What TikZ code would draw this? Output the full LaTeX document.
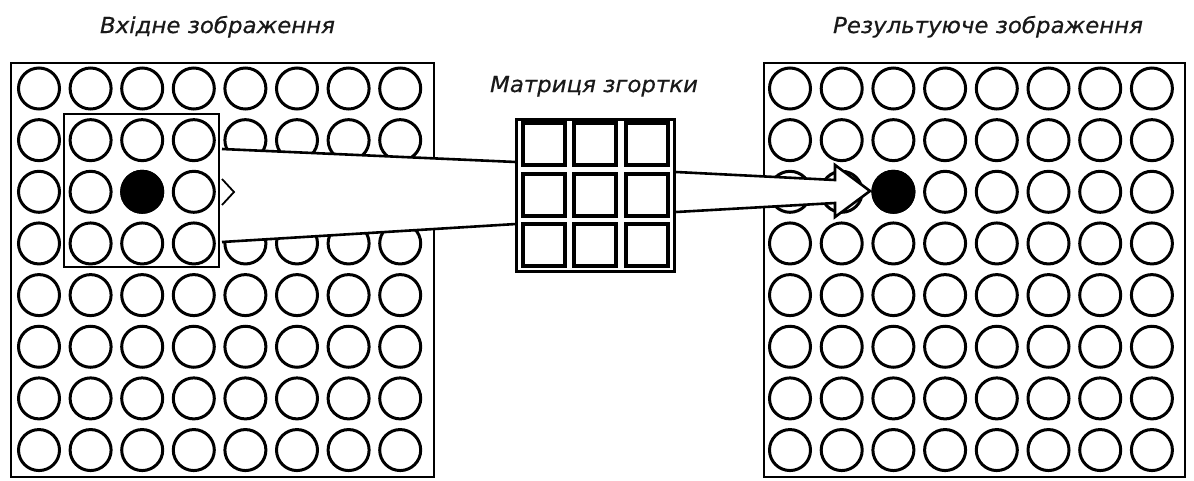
\documentclass[tikz,border=0pt]{standalone}
\usepackage{fontspec}
\newfontfamily\lblfont{DejaVu Sans}[FakeStretch=1.04,FakeBold=0.6]
\usetikzlibrary{calc}
\tikzset{
  px/.style={draw=black, circle, line width=3pt, minimum size=41pt, inner sep=0pt, fill=white},
  pxon/.style={px, fill=black},
  gridframe/.style={draw=black, line width=2.8pt, rectangle, inner sep=0pt},
  winbox/.style={draw=black, line width=2.6pt, rectangle, inner sep=0pt},
  kcell/.style={draw=black, line width=4pt, rectangle, minimum size=42pt, inner sep=0pt, fill=white},
  kframe/.style={draw=black, line width=3.4pt, rectangle, inner sep=0pt, fill=white, minimum width=158pt, minimum height=152pt},
  flow/.style={draw=black, line width=2.6pt, fill=white, line join=miter},
  lbl/.style={font=\lblfont\itshape\fontsize{22}{26}\selectfont, anchor=base, inner sep=0pt, text=black!90},
}
\begin{document}
\begin{tikzpicture}[x=1pt,y=-1pt]
\useasboundingbox (0,0) rectangle (1194,480);
% input image
\node[gridframe, minimum width=423pt, minimum height=414pt] (Lframe) at (222.5,270) {};
\foreach \r in {0,...,7}{
  \foreach \c in {0,...,7}{
    \node[px] (L-\r-\c) at ({39+51.6*\c},{88.5+51.65*\r}) {};
  }
}
\node[pxon] (Lc) at (L-2-2) {};
\node[winbox, minimum width=155pt, minimum height=153pt] (hl) at (141.5,190.5) {};
% result image
\node[gridframe, minimum width=421pt, minimum height=414pt] (Rframe) at (974.5,270) {};
\foreach \r in {0,...,7}{
  \foreach \c in {0,...,7}{
    \node[px] (R-\r-\c) at ({790+51.7*\c},{88.5+51.65*\r}) {};
  }
}
% funnel from window to kernel
\coordinate (f1) at (222,149);
\coordinate (f2) at (516,162);
\coordinate (f3) at (516,224);
\coordinate (f4) at (222,242);
\fill[white] (f1) -- (f2) -- (f3) -- (f4) -- cycle;
\draw[line width=2.6pt] (f1) -- (f2) (f3) -- (f4);
\draw[line width=1.8pt] (222,179) -- (234,192) -- (222,205);
% kernel
\node[kframe] (K) at (595.5,195.5) {};
\foreach \r/\y in {0/144,1/194.5,2/244.5}{
  \foreach \c/\x in {0/543.5,1/595,2/646.5}{
    \node[kcell] (K-\r-\c) at (\x,\y) {};
  }
}
% arrow from kernel to result pixel
\coordinate (a1) at (K.east |- 0,172);
\coordinate (a2) at (835,180);
\coordinate (a3) at (835,165);
\coordinate (a4) at (870,191);
\coordinate (a5) at (835,217);
\coordinate (a6) at (835,203);
\coordinate (a7) at (K.east |- 0,212);
\draw[flow] (a1) -- (a2) -- (a3) -- (a4) -- (a5) -- (a6) -- (a7);
\node[pxon] (Rc) at (R-2-2) {};
% labels
\node[lbl] (t1) at (217.5,33) {Вхідне зображення};
\node[lbl] (t2) at (594,92) {Матриця згортки};
\node[lbl] (t3) at (988,33) {Результуюче зображення};
\end{tikzpicture}
\end{document}
